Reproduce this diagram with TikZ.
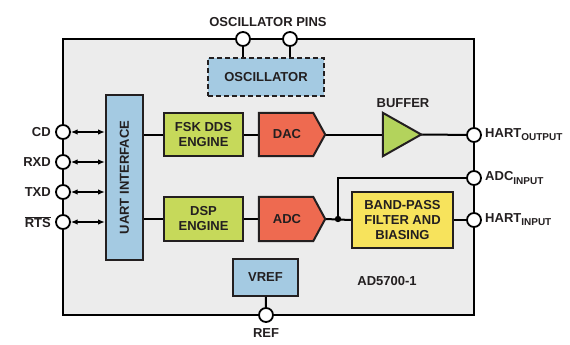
\documentclass[tikz,border=0pt]{standalone}
\usepackage{fontspec}
\setmainfont{Liberation Sans}
\usetikzlibrary{arrows.meta}
\definecolor{chipbg}{HTML}{ECECEC}
\definecolor{blockblue}{HTML}{A4CAE2}
\definecolor{blocklime}{HTML}{C6D95A}
\definecolor{blockred}{HTML}{EE6A50}
\definecolor{blockyellow}{HTML}{F7E35C}
\definecolor{bufgreen}{HTML}{B3D35C}
\definecolor{inktext}{HTML}{231F20}
\newcommand\pinsub[1]{\raisebox{-0.45ex}{\fontsize{10}{10}\selectfont #1}}
\begin{document}
\begin{tikzpicture}[x=1pt,y=-1pt,
  font=\fontsize{13}{15}\selectfont\bfseries, text=inktext,
  blockbox/.style={draw=inktext, line width=2pt, inner sep=0pt, align=center},
  shapebox/.style={inner sep=0pt},
  pin/.style={circle, minimum size=15pt, inner sep=0pt},
  wire/.style={line width=2pt, draw=black},
  bus/.style={line width=2pt, {Latex[length=7pt,width=5.5pt]}-{Latex[length=7pt,width=5.5pt]}}]

\useasboundingbox (0,0) rectangle (570,345);

% chip outline
\draw[fill=chipbg, line width=2.6pt] (63,39) rectangle (474,315);

% blocks
\node[blockbox, fill=blockblue, dashed, dash pattern=on 5pt off 3pt, minimum width=116pt, minimum height=38pt] (osc) at (266,77) {OSCILLATOR};
\node[blockbox, fill=blockblue, minimum width=37pt, minimum height=165pt] (uart) at (124.5,177.5) {};
\node[rotate=90] (uartlbl) at (uart) {UART INTERFACE};
\node[blockbox, fill=blocklime, minimum width=79pt, minimum height=43pt] (fsk) at (203.5,134.5) {FSK DDS\\ENGINE};
\node[blockbox, fill=blocklime, minimum width=79pt, minimum height=44pt] (dsp) at (203.5,219) {DSP\\ENGINE};
\node[shapebox, minimum width=66pt, minimum height=43pt] (dac) at (292,134.5) {};
\node[shapebox, minimum width=66pt, minimum height=44pt] (adc) at (292,219) {};
\node[shapebox, minimum width=38pt, minimum height=43pt] (buf) at (402,134.5) {};
\node[blockbox, fill=blockyellow, minimum width=101pt, minimum height=56pt] (bpf) at (402.5,220) {BAND-PASS\\FILTER AND\\BIASING};
\node[blockbox, fill=blockblue, minimum width=65pt, minimum height=37pt] (vref) at (265.5,277.5) {VREF};

% pin positions
\node[pin] (cd) at (63,132) {};
\node[pin] (rxd) at (63,162) {};
\node[pin] (txd) at (63,192) {};
\node[pin] (rts) at (63,222) {};
\node[pin] (oscA) at (243,39) {};
\node[pin] (oscB) at (290,39) {};
\node[pin] (hartout) at (474,135) {};
\node[pin] (adcin) at (474,178) {};
\node[pin] (hartin) at (474,220) {};
\node[pin] (ref) at (266,315) {};

% connections
\draw[wire] (oscA) -- (oscA |- osc.north);
\draw[wire] (oscB) -- (oscB |- osc.north);
\draw[wire] (fsk.west) -- (fsk.west -| uart.east);
\draw[wire] (dsp.west) -- (dsp.west -| uart.east);
\draw[wire] (fsk) -- (dac.west);
\draw[wire] (dsp) -- (adc.west);
\draw[wire] (dac.east) -- (buf.west);
\draw[wire] (buf.east) -- (hartout);
\draw[wire] (adc.east) -- (bpf.west);
\coordinate (junc) at (338,219);
\draw[wire] (junc) |- (adcin);
\draw[wire] (bpf.east |- hartin) -- (hartin);
\draw[wire] (vref) -- (ref);
\fill (junc) circle (3.2pt);

% shaped blocks drawn over the wires
\draw[fill=blockred, draw=inktext, line width=2pt]
  (dac.north west) -- ([xshift=-12pt]dac.north east) -- (dac.east) -- ([xshift=-12pt]dac.south east) -- (dac.south west) -- cycle;
\node (daclbl) at ([xshift=-5pt]dac.center) {DAC};
\draw[fill=blockred, draw=inktext, line width=2pt]
  (adc.north west) -- ([xshift=-12pt]adc.north east) -- (adc.east) -- ([xshift=-12pt]adc.south east) -- (adc.south west) -- cycle;
\node (adclbl) at ([xshift=-5pt]adc.center) {ADC};
\draw[fill=bufgreen, draw=inktext, line width=2pt]
  (buf.north west) -- (buf.east) -- (buf.south west) -- cycle;

% pin circles over wires
\foreach \p in {oscA,oscB,hartout,adcin,hartin,ref,cd,rxd,txd,rts}
  \draw[fill=white, line width=1.8pt] (\p) circle (7pt);

% serial lines
\draw[bus] (cd.east) -- (cd.east -| uart.west);
\draw[bus] (rxd.east) -- (rxd.east -| uart.west);
\draw[bus] (txd.east) -- (txd.east -| uart.west);
\draw[bus] (rts.east) -- (rts.east -| uart.west);

% labels
\node (osclbl) at (268,22) {OSCILLATOR PINS};
\node (buflbl) at (403,103) {BUFFER};
\node (chiplbl) at (387,281) {AD5700-1};
\node (reflbl) at (266,333) {REF};
\node[anchor=east] (cdlbl) at ([xshift=-1pt]cd.west) {CD};
\node[anchor=east] (rxdlbl) at ([xshift=-1pt]rxd.west) {RXD};
\node[anchor=east] (txdlbl) at ([xshift=-1pt]txd.west) {TXD};
\node[anchor=east] (rtslbl) at ([xshift=-1pt]rts.west) {$\overline{\mbox{RTS}}$};
\node[anchor=west] (hartoutlbl) at (hartout.east) {HART\pinsub{OUTPUT}};
\node[anchor=west] (adcinlbl) at (adcin.east) {ADC\pinsub{INPUT}};
\node[anchor=west] (hartinlbl) at (hartin.east) {HART\pinsub{INPUT}};
\end{tikzpicture}
\end{document}
